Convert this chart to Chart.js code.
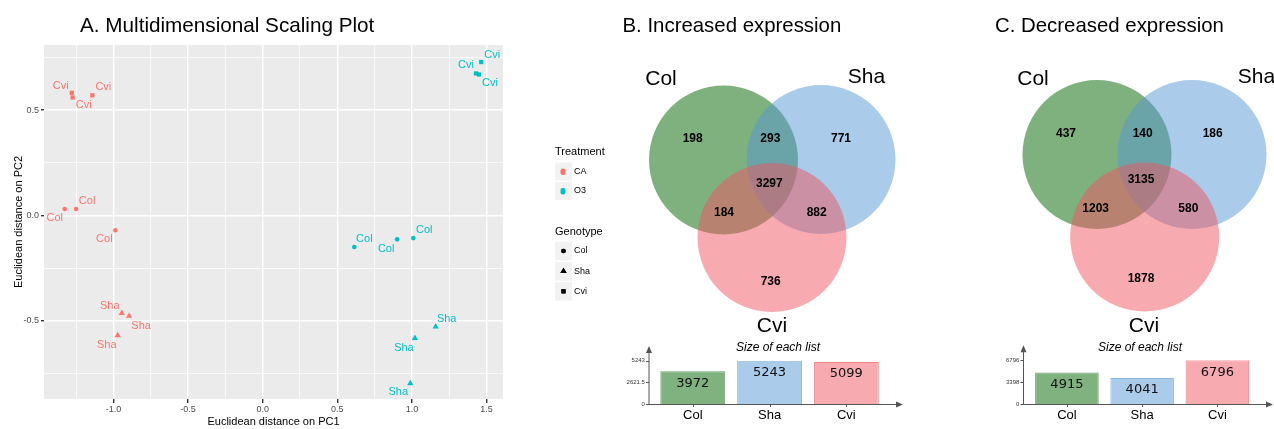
<!DOCTYPE html>
<html>
<head>
<meta charset="utf-8">
<title>MDS and Venn diagrams</title>
<script src="https://cdn.jsdelivr.net/npm/chart.js@4.4.1/dist/chart.umd.min.js"></script>
<style>
  body { margin: 0; background: #fff; }
  #wrap { position: relative; width: 1274px; height: 429px; overflow: hidden; }
  canvas { position: absolute; }
</style>
</head>
<body>
<div id="wrap">
  <canvas id="mds" width="620" height="429" style="left:0;top:0"></canvas>
  <canvas id="vennUp" width="340" height="338" style="left:600px;top:0"></canvas>
  <canvas id="vennDown" width="314" height="338" style="left:960px;top:0"></canvas>
  <canvas id="sizeUp" width="320" height="91" style="left:600px;top:338px"></canvas>
  <canvas id="sizeDown" width="314" height="91" style="left:960px;top:338px"></canvas>
</div>
<script>
// ---- data ----
var genotypes = ['Col', 'Sha', 'Cvi']
var treatments = ['CA', 'O3']

var sampleTreatment = ['CA', 'CA', 'CA', 'CA', 'CA', 'CA', 'CA', 'CA', 'CA',
                       'O3', 'O3', 'O3', 'O3', 'O3', 'O3', 'O3', 'O3', 'O3']
var sampleGenotype = ['Cvi', 'Cvi', 'Cvi', 'Col', 'Col', 'Col', 'Sha', 'Sha', 'Sha',
                      'Cvi', 'Cvi', 'Cvi', 'Col', 'Col', 'Col', 'Sha', 'Sha', 'Sha']
var pc1 = [-1.279, -1.273, -1.141, -1.326, -1.250, -0.987, -0.944, -0.895, -0.971,
           1.464, 1.429, 1.449, 0.614, 0.901, 1.009, 1.159, 1.020, 0.989]
var pc2 = [0.582, 0.560, 0.570, 0.030, 0.030, -0.071, -0.464, -0.478, -0.570,
           0.728, 0.674, 0.669, -0.150, -0.114, -0.108, -0.529, -0.583, -0.798]

var xTickLabels = ['-1.0', '-0.5', '0.0', '0.5', '1.0', '1.5']
var yTickLabels = ['-0.5', '0.0', '0.5']

// venn regions: Col only, Col&Sha, Sha only, all three, Col&Cvi, Sha&Cvi, Cvi only
var vennRegions = ['Col', 'Col&Sha', 'Sha', 'Col&Sha&Cvi', 'Col&Cvi', 'Sha&Cvi', 'Cvi']
var increasedCounts = [198, 293, 771, 3297, 184, 882, 736]
var decreasedCounts = [437, 140, 186, 3135, 1203, 580, 1878]

var increasedSizes = [3972, 5243, 5099]
var decreasedSizes = [4915, 4041, 6796]
var increasedSizeTicks = [0, 2621.5, 5243]
var decreasedSizeTicks = [0, 3398, 6796]

// ---- styling / layout ----
Chart.defaults.font.family = '"Liberation Sans", Arial, sans-serif'
var FONT = '"Liberation Sans", Arial, sans-serif'
var treatmentColor = { CA: '#F8766D', O3: '#00BFC4' }
var genotypeShape = { Col: 'circle', Sha: 'triangle', Cvi: 'rect' }
var genotypeRadius = { Col: 2.3, Sha: 3.6, Cvi: 3 }
// pixel offsets of the repelled text labels, one per sample
var labelNudge = [[-11, -7], [11, 8], [11, -8], [-10, 9], [11, -8], [-11, 9],
                  [-12, -7], [12, 10], [-11, 10], [11, -7], [-10, -8], [11, 8],
                  [10, -8], [-11, 10], [11, -8], [11, -8], [-11, 10], [-12, 9]]

var vennFill = ['rgba(0,100,0,0.5)', 'rgba(85,151,211,0.5)', 'rgba(239,85,97,0.5)']
var barFill = ['rgb(127,178,127)', 'rgb(170,203,233)', 'rgb(247,170,176)']
var barEdge = ['rgb(100,160,100)', 'rgb(140,184,228)', 'rgb(240,130,140)']

function isMajor (v) { return Math.abs(v * 2 - Math.round(v * 2)) < 1e-6 }

// ---- A. MDS scatter ----
var panelBg = {
  id: 'panelBg',
  beforeDraw: function (chart) {
    var a = chart.chartArea, ctx = chart.ctx
    ctx.save()
    ctx.fillStyle = '#EBEBEB'
    ctx.fillRect(a.left, a.top, a.right - a.left, a.bottom - a.top)
    ctx.restore()
  }
}

var pointLabels = {
  id: 'pointLabels',
  afterDatasetsDraw: function (chart) {
    var ctx = chart.ctx
    ctx.save()
    ctx.font = '11px ' + FONT
    ctx.textAlign = 'center'
    ctx.textBaseline = 'middle'
    chart.data.datasets.forEach(function (ds, di) {
      ctx.fillStyle = ds.backgroundColor
      chart.getDatasetMeta(di).data.forEach(function (el, j) {
        var raw = ds.data[j]
        var n = labelNudge[raw.i]
        ctx.fillText(raw.g, el.x + n[0], el.y + n[1])
      })
    })
    ctx.restore()
  }
}

var mdsDecor = {
  id: 'mdsDecor',
  afterDraw: function (chart) {
    var ctx = chart.ctx
    ctx.save()
    ctx.fillStyle = '#000'
    ctx.textBaseline = 'alphabetic'
    ctx.font = '20.7px ' + FONT
    ctx.fillText('A. Multidimensional Scaling Plot', 80, 32)

    // legend
    ctx.textBaseline = 'middle'
    ctx.font = '11px ' + FONT
    ctx.fillText('Treatment', 555, 152)
    ctx.fillText('Genotype', 555, 231.5)
    ctx.font = '9px ' + FONT
    var rows = [[treatments[0], 171.5], [treatments[1], 191]]
    rows.forEach(function (r) {
      ctx.fillStyle = '#F2F2F2'
      ctx.fillRect(555, r[1] - 9, 17, 18)
      ctx.fillStyle = treatmentColor[r[0]]
      ctx.beginPath()
      ctx.roundRect(560.5, r[1] - 3, 5, 6.5, 2)
      ctx.fill()
      ctx.fillStyle = '#000'
      ctx.fillText(r[0], 574, r[1])
    })
    var gy = [251, 271.3, 291.3]
    genotypes.forEach(function (g, k) {
      ctx.fillStyle = '#F2F2F2'
      ctx.fillRect(555, gy[k] - 9.3, 17, 18.6)
      ctx.fillStyle = '#000'
      Chart.helpers.drawPoint(ctx, { pointStyle: genotypeShape[g], radius: genotypeRadius[g], rotation: 0, borderWidth: 0 }, 563.5, gy[k])
      ctx.fill()
      ctx.fillText(g, 574, gy[k])
    })
    ctx.restore()
  }
}

new Chart(document.getElementById('mds'), {
  type: 'scatter',
  data: {
    datasets: treatments.map(function (t) {
      var pts = []
      for (var i = 0; i < pc1.length; i++) {
        if (sampleTreatment[i] === t) pts.push({ x: pc1[i], y: pc2[i], g: sampleGenotype[i], i: i })
      }
      return {
        label: t,
        data: pts,
        backgroundColor: treatmentColor[t],
        borderWidth: 0,
        pointStyle: function (c) { return genotypeShape[c.raw.g] },
        pointRadius: function (c) { return genotypeRadius[c.raw.g] }
      }
    })
  },
  options: {
    responsive: false,
    animation: false,
    events: [],
    layout: { padding: { top: 45, right: 117, left: 0, bottom: 0 } },
    plugins: { legend: { display: false }, tooltip: { enabled: false } },
    scales: {
      x: {
        type: 'linear', min: -1.465, max: 1.61,
        afterFit: function (s) { s.height = 30 },
        border: { display: false },
        grid: {
          color: '#fff',
          lineWidth: function (c) { return isMajor(c.tick.value) ? 1.4 : 0.7 },
          tickColor: function (c) { return isMajor(c.tick.value) ? '#333' : 'rgba(0,0,0,0)' },
          tickLength: 4
        },
        ticks: {
          stepSize: 0.25, includeBounds: false, autoSkip: false, maxRotation: 0,
          padding: 1, color: '#4D4D4D', font: { size: 9 },
          callback: function (v) { return isMajor(v) ? xTickLabels[Math.round(v * 2) + 2] : '' }
        },
        title: { display: true, text: 'Euclidean distance on PC1', color: '#000', font: { size: 11 }, padding: 0 }
      },
      y: {
        type: 'linear', min: -0.872, max: 0.809,
        afterFit: function (s) { s.width = 44 },
        border: { display: false },
        grid: {
          color: '#fff',
          lineWidth: function (c) { return isMajor(c.tick.value) ? 1.4 : 0.7 },
          tickColor: function (c) { return isMajor(c.tick.value) ? '#333' : 'rgba(0,0,0,0)' },
          tickLength: 3
        },
        ticks: {
          stepSize: 0.25, includeBounds: false, autoSkip: false,
          padding: 2, color: '#4D4D4D', font: { size: 9 },
          callback: function (v) { return isMajor(v) ? yTickLabels[Math.round(v * 2) + 1] : '' }
        },
        title: { display: true, text: 'Euclidean distance on PC2', color: '#000', font: { size: 11 }, padding: { top: 12 } }
      }
    }
  },
  plugins: [panelBg, pointLabels, mdsDecor]
})

// ---- B / C. Venn diagrams ----
function vennChart (id, title, counts, geo) {
  var canvas = document.getElementById(id)
  var vennText = {
    id: 'vennText',
    afterDraw: function (chart) {
      var ctx = chart.ctx, sx = chart.scales.x, sy = chart.scales.y
      ctx.save()
      ctx.fillStyle = '#000'
      ctx.textBaseline = 'alphabetic'
      ctx.textAlign = 'left'
      ctx.font = '20.4px ' + FONT
      ctx.fillText(title, geo.titleX, 32)
      ctx.textAlign = 'center'
      ctx.textBaseline = 'middle'
      ctx.font = '21px ' + FONT
      genotypes.forEach(function (g, k) {
        ctx.fillText(g, sx.getPixelForValue(geo.setLabels[k][0]), sy.getPixelForValue(geo.setLabels[k][1]))
      })
      ctx.font = 'bold 12px ' + FONT
      counts.forEach(function (n, k) {
        ctx.fillText(String(n), sx.getPixelForValue(geo.regions[k][0]), sy.getPixelForValue(geo.regions[k][1]))
      })
      ctx.restore()
    }
  }
  new Chart(canvas, {
    type: 'bubble',
    data: {
      datasets: [{
        data: geo.circles.map(function (c) { return { x: c[0], y: c[1], r: geo.r } }),
        backgroundColor: vennFill,
        borderWidth: 0,
        clip: false
      }]
    },
    options: {
      responsive: false,
      animation: false,
      events: [],
      layout: { padding: 0, autoPadding: false },
      plugins: { legend: { display: false }, tooltip: { enabled: false } },
      scales: {
        x: { type: 'linear', display: false, min: 0, max: canvas.width },
        y: { type: 'linear', display: false, min: 0, max: canvas.height, reverse: true }
      }
    },
    plugins: [vennText]
  })
}

vennChart('vennUp', 'B. Increased expression', increasedCounts, {
  titleX: 22.5, r: 74.5,
  circles: [[123.5, 160], [221, 159.5], [172, 237.5]],
  setLabels: [[61, 79], [266.5, 77], [172, 326]],
  regions: [[92.7, 138.3], [170.3, 138.3], [241, 138.3], [169.3, 184], [124, 212.3], [216.7, 212.3], [170.7, 281.7]]
})
vennChart('vennDown', 'C. Decreased expression', decreasedCounts, {
  titleX: 35, r: 74.5,
  circles: [[137, 154.5], [232, 154.5], [184.7, 237]],
  setLabels: [[73, 79], [296.5, 77], [184, 326]],
  regions: [[106, 133.3], [182.7, 133.3], [252.7, 133.3], [181, 180], [135.7, 209], [228.3, 209], [181, 278.3]]
})

// ---- list size bar charts ----
function sizeChart (id, sizes, ticks, geo) {
  var decor = {
    id: 'sizeDecor',
    afterDraw: function (chart) {
      var ctx = chart.ctx, a = chart.chartArea, sy = chart.scales.y, sx = chart.scales.x
      ctx.save()
      ctx.strokeStyle = '#555'
      ctx.fillStyle = '#555'
      ctx.lineWidth = 1
      ctx.beginPath()
      ctx.moveTo(geo.axisX, a.bottom + 0.5)
      ctx.lineTo(geo.arrowRight - 5, a.bottom + 0.5)
      ctx.moveTo(geo.axisX + 0.5, a.bottom)
      ctx.lineTo(geo.axisX + 0.5, geo.arrowTop + 5)
      ticks.forEach(function (v) {
        var y = Math.round(sy.getPixelForValue(v)) + 0.5
        ctx.moveTo(geo.axisX - 2.5, y)
        ctx.lineTo(geo.axisX + 0.5, y)
      })
      genotypes.forEach(function (g, k) {
        var x = Math.round(sx.getPixelForValue(k)) + 0.5
        ctx.moveTo(x, a.bottom)
        ctx.lineTo(x, a.bottom + 3)
      })
      ctx.stroke()
      ctx.beginPath()
      ctx.moveTo(geo.arrowRight, a.bottom + 0.5)
      ctx.lineTo(geo.arrowRight - 7, a.bottom - 2.5)
      ctx.lineTo(geo.arrowRight - 7, a.bottom + 3.5)
      ctx.closePath()
      ctx.moveTo(geo.axisX + 0.5, geo.arrowTop)
      ctx.lineTo(geo.axisX - 2.5, geo.arrowTop + 7)
      ctx.lineTo(geo.axisX + 3.5, geo.arrowTop + 7)
      ctx.closePath()
      ctx.fill()

      ctx.fillStyle = '#000'
      ctx.textAlign = 'center'
      ctx.textBaseline = 'middle'
      ctx.font = 'italic 12px ' + FONT
      ctx.fillText('Size of each list', geo.titleX, 9.5)
      ctx.fillStyle = '#111'
      ctx.font = '13px "DejaVu Sans", sans-serif'
      chart.getDatasetMeta(0).data.forEach(function (bar, k) {
        ctx.fillText(String(sizes[k]), bar.x, bar.y + 12)
      })
      ctx.restore()
    }
  }
  new Chart(document.getElementById(id), {
    type: 'bar',
    data: {
      labels: genotypes,
      datasets: [{
        data: sizes,
        backgroundColor: barFill,
        borderColor: barEdge,
        borderWidth: 1,
        barPercentage: 0.845,
        categoryPercentage: 1
      }]
    },
    options: {
      responsive: false,
      animation: false,
      events: [],
      layout: { padding: { top: geo.top, right: geo.right, left: 0, bottom: 0 } },
      plugins: { legend: { display: false }, tooltip: { enabled: false } },
      scales: {
        x: {
          afterFit: function (s) { s.height = 25 },
          border: { display: false },
          grid: { display: false, drawTicks: false },
          ticks: { color: '#000', font: { size: 13 }, padding: 4 }
        },
        y: {
          min: 0, max: ticks[ticks.length - 1],
          afterFit: function (s) { s.width = geo.left },
          afterBuildTicks: function (s) { s.ticks = ticks.map(function (v) { return { value: v } }) },
          border: { display: false },
          grid: { display: false, drawTicks: false },
          ticks: { color: '#333', font: { size: 6 }, padding: geo.tickPad, callback: function (v) { return String(v) } }
        }
      }
    },
    plugins: [decor]
  })
}

sizeChart('sizeUp', increasedSizes, increasedSizeTicks, {
  top: 22.7, left: 54.4, right: 35.3, tickPad: 9.5,
  axisX: 48.5, arrowTop: 8, arrowRight: 303, titleX: 178
})
sizeChart('sizeDown', decreasedSizes, decreasedSizeTicks, {
  top: 22.3, left: 69.3, right: 19, tickPad: 10,
  axisX: 63, arrowTop: 7.3, arrowRight: 313, titleX: 180
})
</script>
</body>
</html>
